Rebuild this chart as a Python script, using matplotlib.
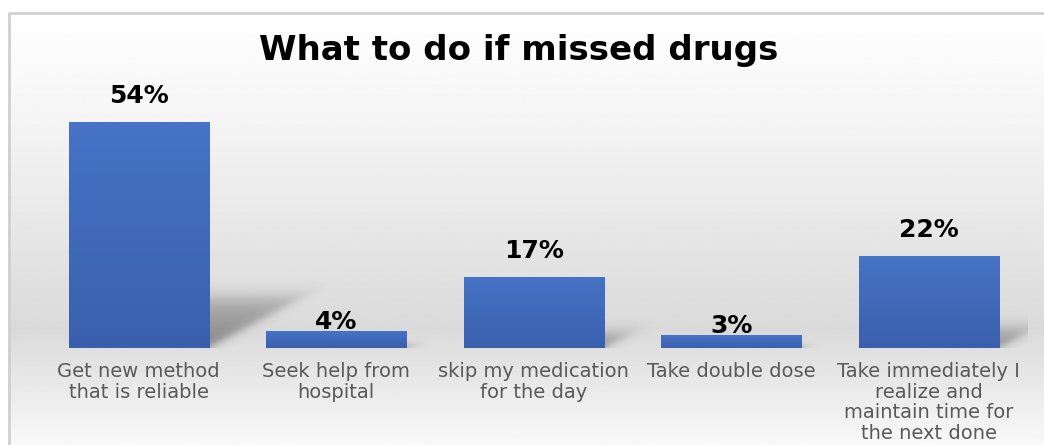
import numpy as np
import matplotlib
matplotlib.use('Agg')
from matplotlib import pyplot as plt
from matplotlib.colors import LinearSegmentedColormap

# Survey answers and their shares (%)
categories = ['Get new method\nthat is reliable',
              'Seek help from\nhospital',
              'skip my medication\nfor the day',
              'Take double dose',
              'Take immediately I\nrealize and\nmaintain time for\nthe next done']
shares = [54, 4, 17, 3, 22]
value_labels = ['54%', '4%', '17%', '3%', '22%']
title = 'What to do if missed drugs'

fig = plt.figure(figsize=(10.44, 4.45), dpi=100)
fig.patch.set_facecolor('white')

# Chart area background: vertical gray gradient with a thin border
bg = fig.add_axes([8 / 1044, 0, 1 - 8 / 1044, 1 - 12 / 445], zorder=-5)
rows = np.linspace(12, 445, 300)
stops_y = [12, 130, 330, 445]
stops_v = [1.0, 0.955, 0.855, 0.975]
shade = np.interp(rows, stops_y, stops_v)
bg.imshow(np.repeat(shade[:, None], 2, axis=1), cmap='gray', vmin=0, vmax=1,
          aspect='auto', extent=[0, 1, 0, 1], interpolation='bilinear')
bg.set_xlim(0, 1)
bg.set_ylim(0, 1)
bg.axis('off')
bg.plot([0.001, 0.001, 1], [0, 0.998, 0.998], color='#d0d0d0', lw=2,
        transform=bg.transAxes, clip_on=False)

ax = fig.add_axes([40 / 1044, 97 / 445, 987.5 / 1044, 251 / 445])
ax.set_facecolor('none')
ymax = 60
ax.set_xlim(-0.5, len(shares) - 0.5)
ax.set_ylim(0, ymax)
x = np.arange(len(shares))
width = 0.71

bars = ax.bar(x, shares, width=width, color='#3f69b9', zorder=3)

# vertical gradient inside each bar
blue = LinearSegmentedColormap.from_list('blue', ['#3a60ad', '#4673c6'])
for b in bars:
    x0, y0 = b.get_x(), b.get_y()
    grad = np.linspace(0, 1, 64)[:, None]
    im = ax.imshow(grad, cmap=blue, origin='lower', aspect='auto',
                   extent=[x0, x0 + b.get_width(), y0, y0 + b.get_height()],
                   zorder=3.5, interpolation='bilinear')
    im.set_clip_path(b)

# soft perspective shadows cast by the bars toward the upper right
bbox = ax.get_window_extent()
pxx = bbox.width / len(shares)
pxy = bbox.height / ymax
gx = np.linspace(-0.5, len(shares) - 0.5, 1000)
gy = np.linspace(0, ymax, 300)
GX, GY = np.meshgrid(gx, gy)
X = (GX + 0.5) * pxx
Y = GY * pxy
alpha = np.zeros_like(X)
sig = lambda z: 1 / (1 + np.exp(-z))
for xi, v in zip(x, shares):
    xl = (xi - width / 2 + 0.5) * pxx
    xr = (xi + width / 2 + 0.5) * pxx
    H = v * pxy
    R = 0.23 * H
    D = 0.42 * H
    t = Y / R
    x0 = X - D * t
    s = 5.0
    a = (sig((x0 - xl) / s) * sig((xr - x0) / s) * sig((R - Y) / s)
         * np.clip(1 - 0.45 * t, 0, 1) * (X > xr - 2))
    alpha = np.maximum(alpha, 0.38 * a)
rgba = np.zeros(alpha.shape + (4,))
rgba[..., 3] = alpha
ax.imshow(rgba, origin='lower', aspect='auto',
          extent=[-0.5, len(shares) - 0.5, 0, ymax], zorder=1,
          interpolation='bilinear')

for xi, v, lab in zip(x, shares, value_labels):
    off = 14 if v * pxy > 30 else -3
    ax.annotate(lab, (xi, v), xytext=(0, off * 72 / 100), textcoords='offset points',
                ha='center', va='bottom', fontsize=18, fontweight='bold',
                color='black', zorder=5)

ax.set_xticks(x)
ax.set_xticklabels(categories, fontsize=14, color='#595959', linespacing=1.12)
ax.tick_params(axis='x', length=0, pad=10)
ax.set_yticks([])
for sp in ax.spines.values():
    sp.set_visible(False)

fig.text(0.497, 0.887, title, ha='center', va='center', fontsize=24.5,
         fontweight='bold', color='black')

fig.savefig('out.png', dpi=100)
